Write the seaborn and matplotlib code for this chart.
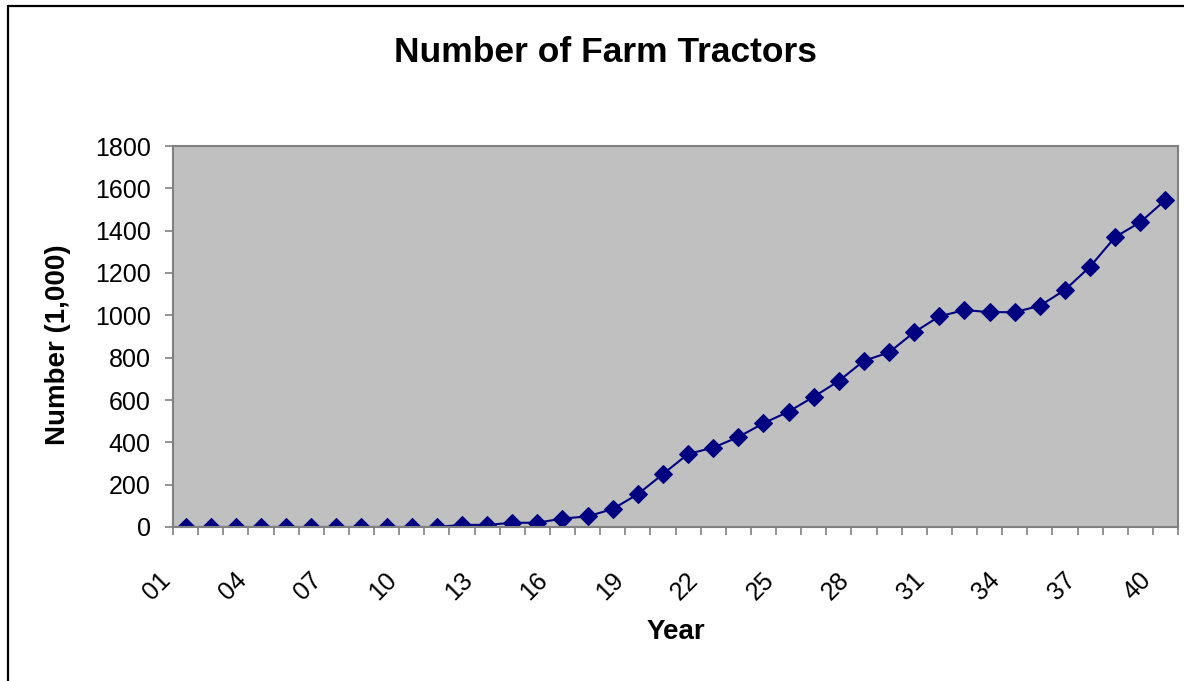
import numpy as np
import pandas as pd
import seaborn as sns
import matplotlib.pyplot as plt
import matplotlib.transforms as mtransforms
from matplotlib.lines import Line2D

# data (thousands of tractors)
years = list(range(1, 41))
tractors = [0, 0, 0, 0, 0, 0, 0, 0, 0, 0,
            0, 10, 10, 20, 20, 40, 50, 85, 155, 250,
            345, 375, 425, 490, 545, 615, 690, 785, 825, 920,
            995, 1025, 1015, 1015, 1045, 1120, 1230, 1370, 1440, 1545]
year_labels = [f"{y:02d}" for y in years]

df = pd.DataFrame({"year": years, "tractors": tractors})

sns.set_style("white")
plt.rcParams['font.family'] = ['Liberation Sans', 'DejaVu Sans']
plt.rcParams['text.color'] = 'black'
plt.rcParams['xtick.labelcolor'] = 'black'
plt.rcParams['ytick.labelcolor'] = 'black'
plt.rcParams['axes.labelcolor'] = 'black'

fig = plt.figure(figsize=(11.84, 6.81), dpi=100)
ax = fig.add_axes([173 / 1184, 1 - 527 / 681, 1005 / 1184, 381 / 681])
ax.set_facecolor('#C0C0C0')

sns.lineplot(data=df, x="year", y="tractors", ax=ax, color='#000080',
             marker='D', markersize=9, markeredgecolor='#000080',
             linewidth=1.5)

ax.set_xlim(0.5, 40.5)
ax.set_ylim(0, 1800)
ax.set_yticks(np.arange(0, 1801, 200))

# tick marks between categories, labels every 3rd category
ax.set_xticks(np.arange(0.5, 41, 1))
ax.set_xticklabels([])
ax.set_xticks(years[::3], minor=True)
ax.set_xticklabels(year_labels[::3], minor=True, rotation=45,
                   ha='right', va='top', rotation_mode='anchor')
ax.tick_params(axis='x', which='minor', length=0, pad=29.5, labelsize=18)
ax.tick_params(axis='x', which='major', length=6, width=1.2, color='#808080',
               direction='out', bottom=True)
ax.tick_params(axis='y', length=6, width=1.2, color='#808080', pad=10,
               labelsize=18, left=True)

# Excel-like placement: rotated labels sit a little left of the category
shift = mtransforms.ScaledTranslation(-27 / 100, 0, fig.dpi_scale_trans)
for lab in ax.get_xticklabels(minor=True):
    lab.set_transform(lab.get_transform() + shift)

for s in ax.spines.values():
    s.set_color('#808080')
    s.set_linewidth(1.5)

ax.set_xlabel('Year', fontsize=20, fontweight='bold')
ax.xaxis.set_label_coords(0.5, -(632 - 527) / 381)
ax.xaxis.label.set_va('center')
ax.set_ylabel('Number (1,000)', fontsize=20, fontweight='bold')
ax.yaxis.set_label_coords(-(173 - 58) / 1005, (527 - 345) / 381)
ax.yaxis.label.set_va('center')
fig.text(606 / 1184, 1 - 53 / 681, 'Number of Farm Tractors',
         ha='center', va='center', fontsize=25.5, fontweight='bold')

# chart frame (left and top edges visible in the crop)
fig.add_artist(Line2D([8 / 1184, 8 / 1184], [0, 1 - 6 / 681],
                      transform=fig.transFigure, color='black', lw=1.6))
fig.add_artist(Line2D([8 / 1184, 1], [1 - 6 / 681, 1 - 6 / 681],
                      transform=fig.transFigure, color='black', lw=1.6))

fig.savefig('out.png', dpi=100)
